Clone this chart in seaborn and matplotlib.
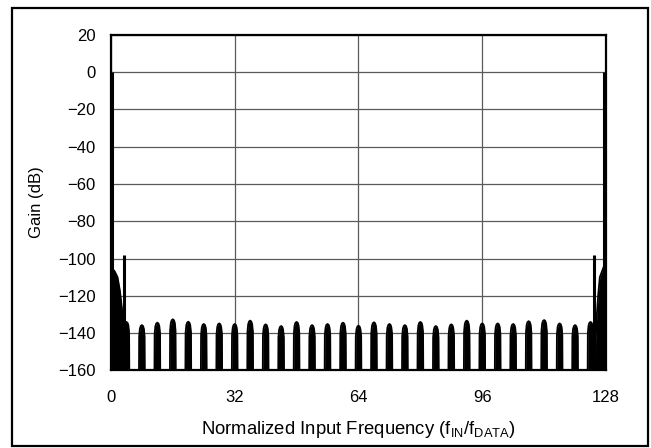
import numpy as np
import pandas as pd
import matplotlib
matplotlib.use("Agg")
import matplotlib.pyplot as plt
import seaborn as sns
from matplotlib.patches import Rectangle

# sidelobe centres (fIN/fDATA) and peak gain (dB)
lobe_freq = [4, 8, 12, 16, 20, 24, 28, 32, 36, 40, 44, 48, 52, 56, 60, 64,
             68, 72, 76, 80, 84, 88, 92, 96, 100, 104, 108, 112, 116, 120, 124]
lobe_gain = [-134.0, -135.7, -134.4, -132.6, -133.9, -135.1, -134.8, -135.1,
             -133.3, -135.3, -136.2, -134.0, -135.7, -135.1, -134.4, -136.0,
             -134.2, -135.1, -135.7, -134.0, -136.2, -135.3, -133.3, -134.8,
             -134.8, -135.1, -133.6, -133.0, -134.8, -135.7, -134.0]

# passband images at both ends and the two spurs
spur_freq = [0.4, 3.4, 124.8, 127.6]
spur_gain = [0.0, -98.0, -98.0, 0.0]

# upper envelope of the dense skirts next to 0 and 128
left_edge_freq = [0.0, 0.4, 1.0, 1.7, 2.3, 2.8, 3.1]
left_edge_gain = [-104.0, -105.5, -107.0, -110.0, -117.0, -126.0, -133.0]
right_edge_freq = [125.3, 125.6, 126.0, 126.4, 127.3, 127.9, 128.0]
right_edge_gain = [-145.0, -131.0, -119.0, -110.0, -105.0, -102.5, -102.0]

FLOOR = -175.0

# build one trace: skirt, lobes, skirt (lobe outline is just styling)
shape_dx = [-0.78, -0.7, -0.52, -0.3, 0.0, 0.3, 0.52, 0.7, 0.78]
shape_dy = [None, 6.0, 2.0, 0.5, 0.0, 0.5, 2.0, 6.0, None]

xs, ys = [], []
xs += left_edge_freq + [left_edge_freq[-1] + 0.05]
ys += left_edge_gain + [FLOOR]
for c, p in zip(lobe_freq, lobe_gain):
    for dx, dy in zip(shape_dx, shape_dy):
        xs.append(c + dx)
        ys.append(FLOOR if dy is None else p - dy)
xs += [right_edge_freq[0] - 0.05] + right_edge_freq
ys += [FLOOR] + right_edge_gain
trace = pd.DataFrame({"freq": xs, "gain": ys})

sns.set_theme(style="white")
plt.rcParams['font.family'] = ['Liberation Sans', 'DejaVu Sans']
plt.rcParams['axes.unicode_minus'] = True

fig = plt.figure(figsize=(6.51, 4.48), dpi=100)
ax = fig.add_axes([0.1704, 0.1732, 0.7605, 0.7493])

ax.fill_between(trace["freq"], trace["gain"], FLOOR, color="black", lw=0, zorder=3)
sns.lineplot(data=trace, x="freq", y="gain", sort=False, estimator=None,
             color="black", lw=1.3, ax=ax, zorder=3)
ax.vlines(spur_freq, FLOOR, spur_gain, color="black", lw=2.2, zorder=4)

ax.set_xlim(0, 128)
ax.set_ylim(-160, 20)
ax.set_xticks([0, 32, 64, 96, 128])
ax.set_yticks(np.arange(-160, 21, 20))
ax.grid(True, color="#5a5a5a", lw=0.9)
ax.set_axisbelow(True)
for s in ax.spines.values():
    s.set_color("black")
    s.set_linewidth(1.6)
    s.set_zorder(5)
ax.tick_params(axis="both", length=0, labelsize=12, colors="black")
ax.tick_params(axis="y", pad=11)
ax.tick_params(axis="x", pad=14)

ax.set_xlabel("Normalized Input Frequency (f$_{\\mathregular{IN}}$/f$_{\\mathregular{DATA}}$)",
              fontsize=13.3, color="black", labelpad=10)
ax.set_ylabel("Gain (dB)", fontsize=12, color="black", labelpad=10)

# outer frame around the whole figure
fig.patches.append(Rectangle((12 / 651, 2 / 448), 636 / 651, 438 / 448,
                             transform=fig.transFigure, fill=False,
                             edgecolor="black", lw=1.6))

fig.savefig("out.png", dpi=100)
